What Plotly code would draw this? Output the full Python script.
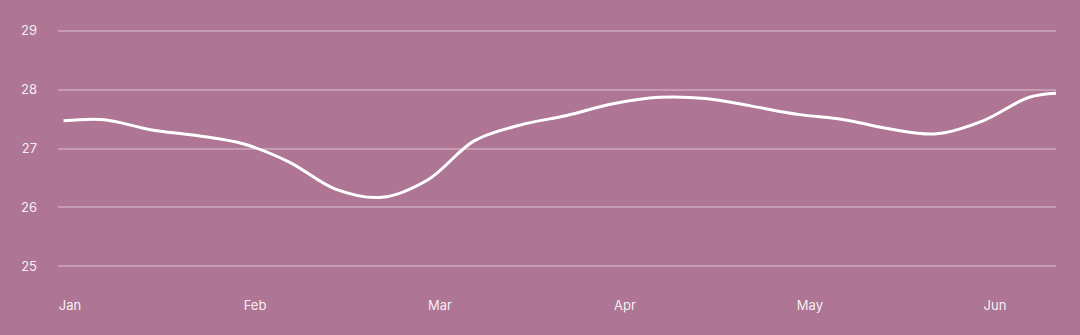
import plotly.graph_objects as go

# Month positions (0 = Jan) and values
month_pos = [0.03, 0.25, 0.5, 0.75, 1.0, 1.25, 1.5, 1.75, 2.0, 2.25, 2.5, 2.75,
             3.0, 3.25, 3.5, 3.75, 4.0, 4.25, 4.5, 4.75, 5.0, 5.25, 5.4]
values = [27.47, 27.49, 27.32, 27.22, 27.08, 26.77, 26.31, 26.17, 26.47, 27.13,
          27.40, 27.56, 27.76, 27.87, 27.85, 27.72, 27.58, 27.49, 27.33, 27.25,
          27.47, 27.87, 27.94]
tick_pos = [0, 1, 2, 3, 4, 5]
tick_labels = ["Jan", "Feb", "Mar", "Apr", "May", "Jun"]
y_ticks = [25, 26, 27, 28, 29]

BG = "#ae7594"
GRID = "rgba(255,255,255,0.28)"
TXT = "rgba(255,255,255,0.9)"

fig = go.Figure()
fig.add_trace(go.Scatter(
    x=month_pos, y=values, mode="lines",
    line=dict(color="white", width=3, shape="spline", smoothing=1.0),
    hoverinfo="skip", showlegend=False,
))

fig.update_layout(
    width=1080, height=335,
    paper_bgcolor=BG, plot_bgcolor=BG,
    margin=dict(l=58, r=24, t=19, b=47, pad=0),
    font=dict(family="Inter, Roboto, sans-serif", size=13, color=TXT),
    xaxis=dict(
        range=[0, 5.395], tickmode="array", tickvals=tick_pos, ticktext=tick_labels,
        showgrid=False, zeroline=False, showline=False, ticks="",
        ticklabelshift=12, ticklabelstandoff=8, fixedrange=True,
    ),
    yaxis=dict(
        range=[24.63, 29.2], tickmode="array", tickvals=y_ticks,
        showgrid=True, gridcolor=GRID, gridwidth=1.5,
        zeroline=False, showline=False, ticks="",
        ticklabelstandoff=20, fixedrange=True,
    ),
)

fig.write_html("out.html")
